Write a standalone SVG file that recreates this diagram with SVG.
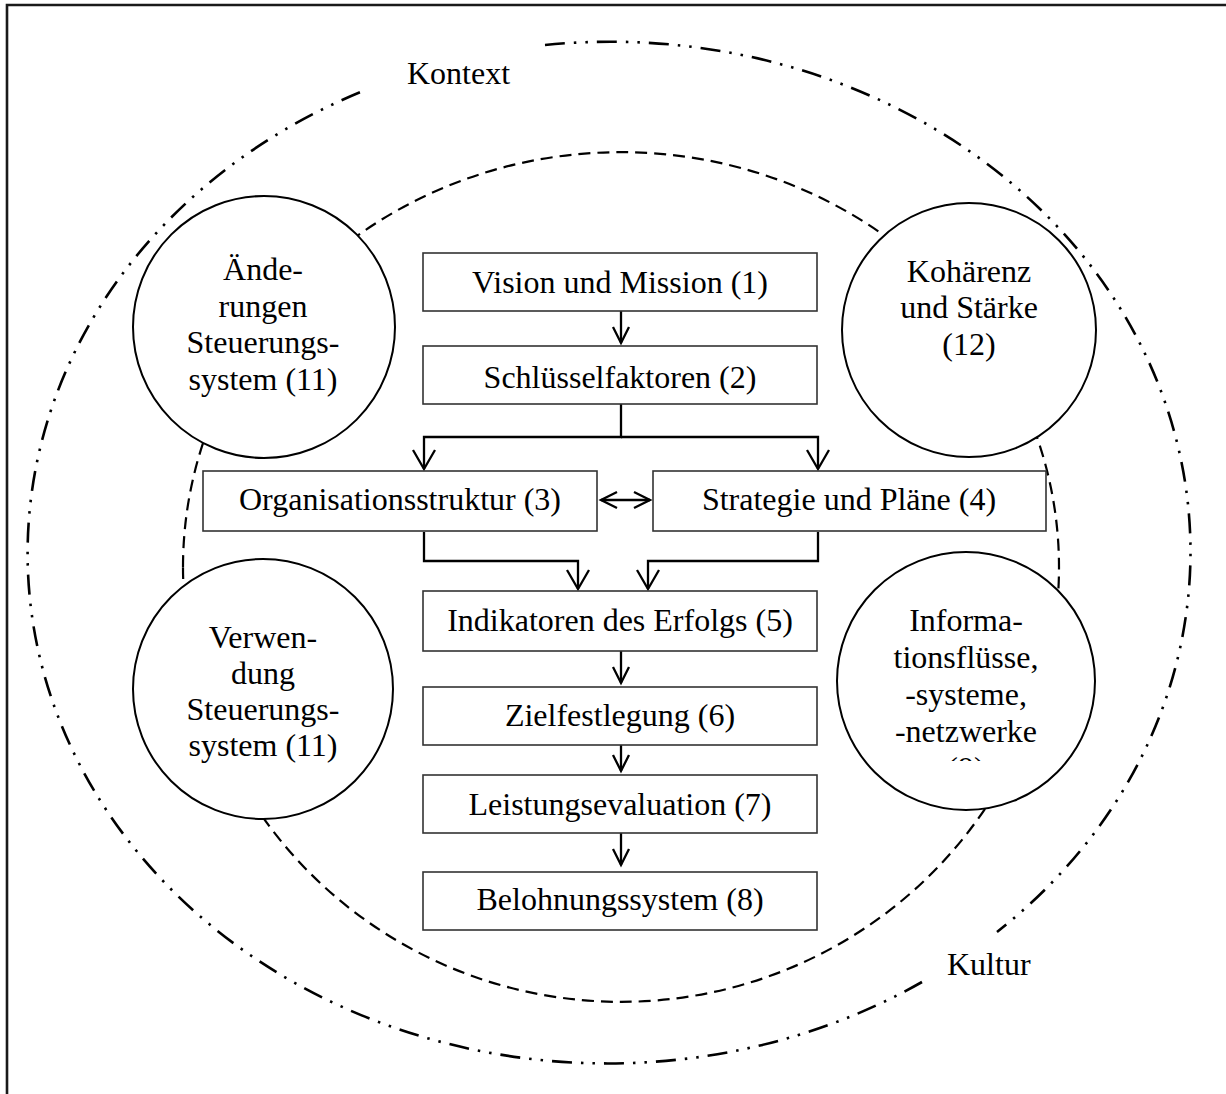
<svg xmlns="http://www.w3.org/2000/svg" width="1226" height="1094" viewBox="0 0 1226 1094">
<style>
  text { font-family: "Liberation Serif", "Times New Roman", serif; font-size: 32px; fill: #000; }
  .c { text-anchor: middle; }
  .box { fill: #fff; stroke: #333; stroke-width: 1.6; }
  .circ { fill: #fff; stroke: #000; stroke-width: 2; }
  .conn { fill: none; stroke: #000; stroke-width: 2.3; }
  .outer { fill: none; stroke: #000; stroke-width: 2.6; stroke-dasharray: 20 9 2.5 9 2.5 9; }
  .inner { fill: none; stroke: #000; stroke-width: 2.2; stroke-dasharray: 12 7; }
</style>
<defs>
  <marker id="arr" markerUnits="userSpaceOnUse" viewBox="-20 -12 24 24" markerWidth="24" markerHeight="24" refX="0" refY="0" orient="auto-start-reverse" overflow="visible">
    <path d="M-16,-8 L0,0 L-16,8" fill="none" stroke="#000" stroke-width="2.3"/>
  </marker>
  <marker id="arrL" markerUnits="userSpaceOnUse" viewBox="-24 -14 28 28" markerWidth="28" markerHeight="28" refX="0" refY="0" orient="auto-start-reverse" overflow="visible">
    <path d="M-19,-11 L0,0 L-19,11" fill="none" stroke="#000" stroke-width="2.3"/>
  </marker>
  <clipPath id="clip9"><rect x="830" y="540" width="280" height="221"/></clipPath>
</defs>
<rect width="1226" height="1094" fill="#fff"/>
<path d="M7,1094 V5 H1226" fill="none" stroke="#1a1a1a" stroke-width="2.6"/>

<g id="kontext">
  <path class="outer" d="M545,45 A580,510 0 0 1 997,932"/>
  <path class="outer" d="M922,982 A580,510 0 1 1 363,91"/>
  <text x="407" y="84">Kontext</text>
</g>
<g id="kultur">
  <path class="inner" d="M183,567 A438,415 0 0 1 1059,567 A438,435 0 0 1 183,567 Z"/>
  <text x="947" y="975">Kultur</text>
</g>

<g id="connectors">
  <path class="conn" d="M621,311 V343" marker-end="url(#arr)"/>
  <path class="conn" d="M621,404 V437 H424 V469" marker-end="url(#arrL)"/>
  <path class="conn" d="M621,437 H818 V469" marker-end="url(#arrL)"/>
  <path class="conn" d="M601,500 H650" marker-start="url(#arr)" marker-end="url(#arr)"/>
  <path class="conn" d="M424,532 V561 H578 V589" marker-end="url(#arrL)"/>
  <path class="conn" d="M818,532 V561 H648 V589" marker-end="url(#arrL)"/>
  <path class="conn" d="M621,651 V683" marker-end="url(#arr)"/>
  <path class="conn" d="M621,745 V771" marker-end="url(#arr)"/>
  <path class="conn" d="M621,833 V865" marker-end="url(#arr)"/>
</g>

<g id="n1"><rect class="box" x="423" y="253" width="394" height="58"/><text class="c" x="620" y="293">Vision und Mission (1)</text></g>
<g id="n2"><rect class="box" x="423" y="346" width="394" height="58"/><text class="c" x="620" y="388">Schlüsselfaktoren (2)</text></g>
<g id="n3"><rect class="box" x="203" y="471" width="394" height="60"/><text class="c" x="400" y="510">Organisationsstruktur (3)</text></g>
<g id="n4"><rect class="box" x="653" y="471" width="393" height="60"/><text class="c" x="849" y="510">Strategie und Pläne (4)</text></g>
<g id="n5"><rect class="box" x="423" y="591" width="394" height="60"/><text class="c" x="620" y="631">Indikatoren des Erfolgs (5)</text></g>
<g id="n6"><rect class="box" x="423" y="687" width="394" height="58"/><text class="c" x="620" y="726">Zielfestlegung (6)</text></g>
<g id="n7"><rect class="box" x="423" y="775" width="394" height="58"/><text class="c" x="620" y="815">Leistungsevaluation (7)</text></g>
<g id="n8"><rect class="box" x="423" y="872" width="394" height="58"/><text class="c" x="620" y="910">Belohnungssystem (8)</text></g>

<g id="c11a">
  <circle class="circ" cx="264" cy="327" r="131"/>
  <text class="c" x="263" y="280">Ände-</text>
  <text class="c" x="263" y="316.5">rungen</text>
  <text class="c" x="263" y="353">Steuerungs-</text>
  <text class="c" x="263" y="389.5">system (11)</text>
</g>
<g id="c12">
  <circle class="circ" cx="969" cy="330" r="127"/>
  <text class="c" x="969" y="282">Kohärenz</text>
  <text class="c" x="969" y="318">und Stärke</text>
  <text class="c" x="969" y="355">(12)</text>
</g>
<g id="c11b">
  <circle class="circ" cx="263" cy="689" r="130"/>
  <text class="c" x="263" y="648">Verwen-</text>
  <text class="c" x="263" y="684">dung</text>
  <text class="c" x="263" y="720">Steuerungs-</text>
  <text class="c" x="263" y="756">system (11)</text>
</g>
<g id="c9">
  <circle class="circ" cx="966" cy="681" r="129"/>
  <text class="c" x="966" y="631">Informa-</text>
  <text class="c" x="966" y="668">tionsflüsse,</text>
  <text class="c" x="966" y="705">-systeme,</text>
  <text class="c" x="966" y="742">-netzwerke</text>
  <text class="c" x="966" y="779" clip-path="url(#clip9)">(9)</text>
</g>
</svg>
